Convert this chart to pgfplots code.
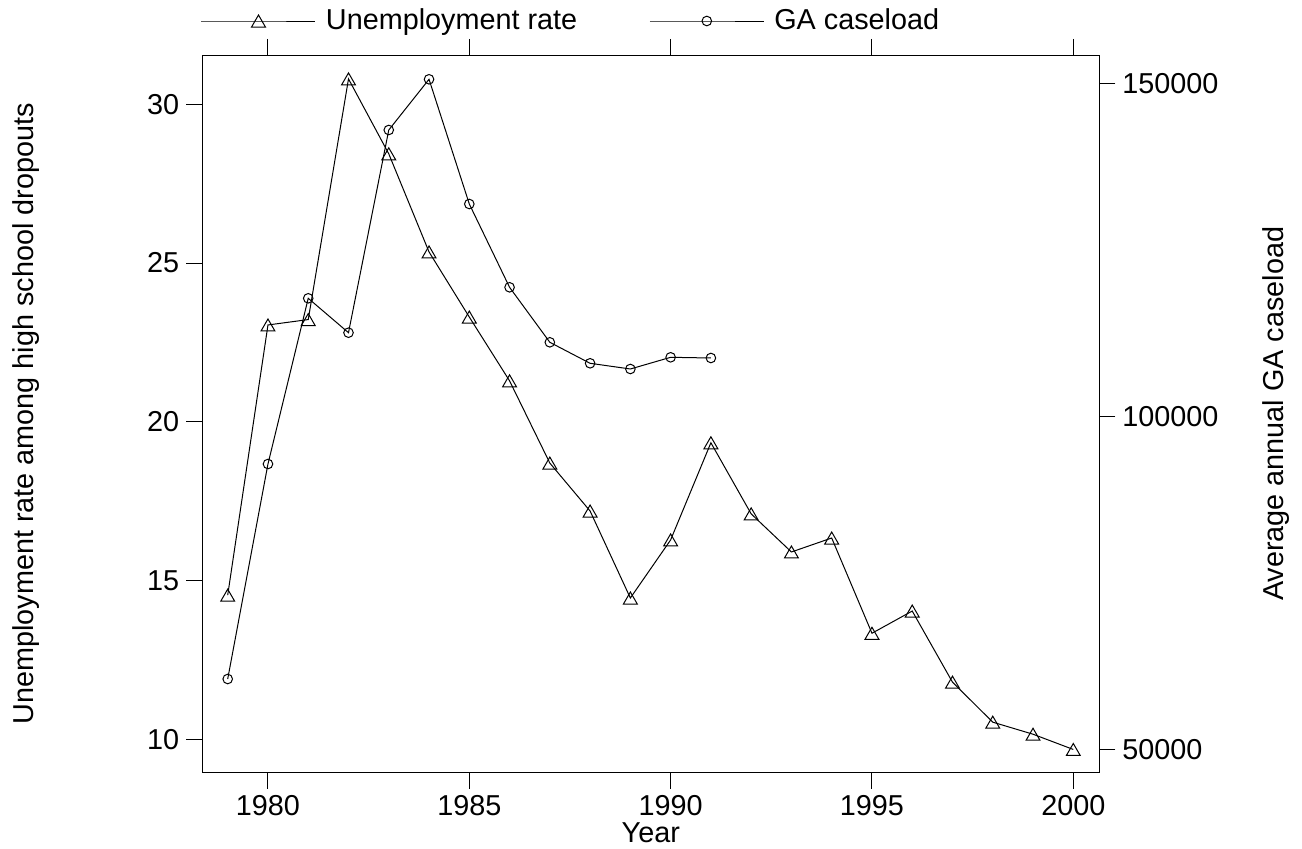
\documentclass[border=0pt]{standalone}
\usepackage{pgfplots}
\pgfplotsset{compat=1.18}
\usepackage{fontspec}
\setmainfont{Liberation Sans}
\begin{document}
\begin{tikzpicture}[font=\fontsize{14.4pt}{17pt}\selectfont]
\pgfplotsset{
  every axis/.append style={
    scale only axis, width=448.5pt, height=358.85pt,
    xmin=1978.369, xmax=2000.646,
    tick align=outside, major tick length=8pt,
    every tick/.style={black, line width=0.5pt},
    axis line style={line width=0.5pt},
    /pgf/number format/assume math mode=true,
    /pgf/number format/1000 sep={},
    scaled ticks=false,
  },
}
\begin{axis}[
  ymin=8.948, ymax=31.553,
  xtick={1980,1985,1990,1995,2000},
  xticklabels={1980,1985,1990,1995,2000},
  ytick={10,15,20,25,30},
  yticklabels={10,15,20,25,30},
  ytick pos=left, xtick pos=both, xticklabel pos=lower,
  xlabel={Year},
  ylabel={Unemployment rate among high school dropouts},
  xlabel style={at={(axis description cs:0.5,0)}, anchor=base, yshift=-34.65pt},
  ylabel style={at={(axis description cs:-0.1887,0.5)}, anchor=base},
  legend columns=2,
  legend style={draw=none, fill=none, inner sep=0pt, outer sep=0pt,
    at={(axis description cs:0,1)}, anchor=west, xshift=-0.65pt, yshift=17pt,
    nodes={inner sep=0pt},
    /tikz/every odd column/.append style={column sep=5pt},
    /tikz/every even column/.append style={column sep=36pt}},
  legend image code/.code={\draw[mark repeat=2,mark phase=2,#1] plot coordinates {(0pt,0pt) (28.5pt,0pt) (57pt,0pt)};},
]
\addplot[black, line width=0.5pt, mark=triangle, mark size=4pt, mark options={solid, yshift=-1pt}] coordinates {
(1979,14.54) (1980,23.05) (1981,23.22) (1982,30.8) (1983,28.44) (1984,25.35)
(1985,23.30) (1986,21.29) (1987,18.70) (1988,17.19) (1989,14.45) (1990,16.28)
(1991,19.34) (1992,17.10) (1993,15.90) (1994,16.34) (1995,13.34) (1996,14.04)
(1997,11.80) (1998,10.54) (1999,10.16) (2000,9.68)
};
\addlegendentry{Unemployment rate}
\addlegendimage{black, line width=0.5pt, mark=o, mark size=2.4pt}
\addlegendentry{GA caseload}
\end{axis}
\begin{axis}[
  ymin=46486, ymax=154249,
  ytick={50000,100000,150000},
  yticklabels={50000,100000,150000},
  axis y line*=right, axis x line=none,
  ylabel={Average annual GA caseload},
  ylabel style={at={(axis description cs:1.2048,0.5)}, anchor=base},
]
\addplot[black, line width=0.5pt, mark=o, mark size=2.4pt] coordinates {
(1979,60556) (1980,92838) (1981,117718) (1982,112553) (1983,142988) (1984,150601)
(1985,131877) (1986,119369) (1987,111111) (1988,107958) (1989,107102) (1990,108859)
(1991,108754)
};
\end{axis}
\pgfresetboundingbox
\path[use as bounding box] (-101.15pt,-37.65pt) rectangle (549.85pt,386.35pt);
\end{tikzpicture}
\end{document}
